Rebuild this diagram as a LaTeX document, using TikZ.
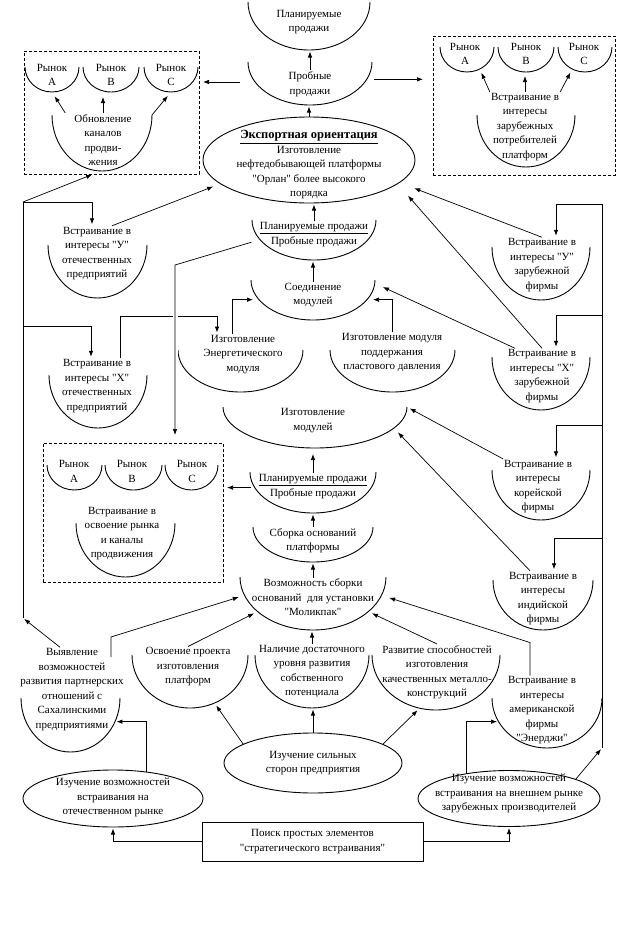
\documentclass[tikz,border=0pt]{standalone}
\usepackage{fontspec}
\setmainfont{Liberation Serif}[Ligatures=TeXOff]
\usetikzlibrary{shapes.geometric,arrows.meta,calc}

\tikzset{
  txt/.style={align=center, inner sep=1pt},
  bowlline/.style={line width=0.9pt},
  oval/.style={ellipse, draw, line width=0.9pt, inner sep=0pt, outer sep=0pt},
  dashbox/.style={draw, dash pattern=on 3pt off 2pt, line width=0.7pt, inner sep=0pt, outer sep=0pt},
  arr/.style={-{Latex[length=6pt,width=4.5pt]}, line width=0.7pt, shorten >=1.5pt},
}
% bowl: name, centre of the arc top, x radius, y radius
\newcommand{\bowl}[4]{%
  \node[ellipse, inner sep=0pt, outer sep=0pt, minimum width=2*#3, minimum height=2*#4] (#1) at #2 {};
  \draw[bowlline] (#1.west) arc (180:0:#3 and #4);}

\begin{document}
\begin{tikzpicture}[x=1pt, y=-1pt, font=\fontsize{11}{14.5}\selectfont]
  \useasboundingbox (0,0) rectangle (623,926);

  % centre column, top
  \bowl{plan1}{(309,2)}{61}{48}
  \node[txt] (plan1t) at (309,22) {Планируемые\\продажи};
  \bowl{prob1}{(310,62)}{62}{43}
  \node[txt] (prob1t) at (310,84) {Пробные\\продажи};
  \node[oval, minimum width=212, minimum height=86] (eo) at (309,160) {};
  \node[txt] (eot) at (309,165) {{\fontsize{12.5}{14.5}\selectfont\bfseries\underline{Экспортная ориентация}}\\Изготовление\\нефтедобывающей платформы\\"Орлан" более высокого\\порядка};
  \draw[arr] (prob1t.north) -- (prob1t.north |- plan1.south);
  \draw[arr] (eo.north) -- (eo.north |- prob1.south);

  % left box
  \node[dashbox, minimum width=175, minimum height=123] (L1) at (111.5,112.5) {};
  \bowl{rA1}{(52,67)}{27}{25}
  \bowl{rB1}{(111,67)}{28}{25}
  \bowl{rC1}{(171,67)}{27}{25}
  \node[txt] (rA1t) at (52,75) {Рынок\\А};
  \node[txt] (rB1t) at (111,75) {Рынок\\В};
  \node[txt] (rC1t) at (171,75) {Рынок\\С};
  \bowl{obn}{(102,115)}{50}{56}
  \node[txt] (obnt) at (103,140) {Обновление\\каналов\\продви-\\жения};
  \draw[arr, shorten >=5pt] ([xshift=-8pt]obnt.north west) -- (rA1.south);
  \draw[arr, shorten >=5pt] (obnt.north) -- (obnt.north |- rB1.south);
  \draw[arr, shorten >=5pt] (obn.east) -- (rC1.south);

  % right box
  \node[dashbox, minimum width=182, minimum height=139] (R1) at (524,105.5) {};
  \bowl{rA2}{(467,47)}{27}{25}
  \bowl{rB2}{(526,47)}{28}{25}
  \bowl{rC2}{(585,47)}{27}{25}
  \node[txt] (rA2t) at (465,54) {Рынок\\А};
  \node[txt] (rB2t) at (526,54) {Рынок\\В};
  \node[txt] (rC2t) at (584,54) {Рынок\\С};
  \bowl{vstr}{(526,115)}{49}{52}
  \node[txt] (vstrt) at (525,127) {Встраивание в\\интересы\\зарубежных\\потребителей\\платформ};
  \draw[arr, shorten >=4pt] (vstrt.north west) -- (rA2.-60);
  \draw[arr, shorten >=4pt] (vstrt.north) -- (vstrt.north |- rB2.south);
  \draw[arr, shorten >=4pt] (vstrt.north east) -- (rC2.-120);

  \draw[arr, shorten <=15pt, shorten >=4pt] (prob1.200) -- (prob1.200 -| L1.east);
  \draw[arr, shorten <=7pt, shorten >=10pt] (prob1.-17) -- (prob1.-17 -| R1.west);

  % centre column, modules
  \bowl{mp}{(314,220)}{62}{40}
  \node[txt] (mpt) at (314,234.5) {\underline{Планируемые продажи}\\Пробные продажи};
  \draw[arr] (mpt.north) -- (mpt.north |- eo.south);
  \bowl{soed}{(313,280)}{62}{40}
  \node[txt] (soedt) at (313,295) {Соединение\\модулей};
  \draw[arr] (soedt.north) -- (soedt.north |- mp.south);
  \bowl{energ}{(240.5,350)}{62.5}{42}
  \node[txt] (energt) at (243,354.5) {Изготовление\\Энергетического\\модуля};
  \draw[arr, shorten >=6pt] ([xshift=-11pt]energt.north) |- (soed.200);
  \bowl{plast}{(392.5,350)}{62.5}{42}
  \node[txt] (plastt) at (392,352.5) {Изготовление модуля\\поддержания\\пластового давления};
  \draw[arr, shorten >=6pt] (plastt.north) |- (soed.-20);
  \bowl{izmod}{(315,407)}{92}{41}
  \node[txt] (izmodt) at (313,420.5) {Изготовление\\модулей};
  \bowl{lp}{(313,472)}{63}{41}
  \node[txt] (lpt) at (313,486.5) {\underline{Планируемые продажи}\\Пробные продажи};
  \draw[arr, shorten >=6pt] (lpt.north) -- (lpt.north |- izmod.south);
  \bowl{sb}{(313,527)}{60}{35}
  \node[txt] (sbt) at (313,540.5) {Сборка оснований\\платформы};
  \draw[arr] (sbt.north) -- (sbt.north |- lp.south);
  \bowl{voz}{(313,577)}{73}{53}
  \node[txt] (vozt) at (313,597.5) {Возможность сборки\\оснований\ \ для установки\\"Моликпак"};
  \draw[arr] (vozt.north) -- (vozt.north |- sb.south);

  % middle box
  \node[dashbox, minimum width=180, minimum height=139] (M) at (133,512.5) {};
  \bowl{rA3}{(74.5,465)}{27.5}{25}
  \bowl{rB3}{(133.5,465)}{28.5}{25}
  \bowl{rC3}{(191.5,465)}{26.5}{25}
  \node[txt] (rA3t) at (74,471.5) {Рынок\\А};
  \node[txt] (rB3t) at (132,471.5) {Рынок\\В};
  \node[txt] (rC3t) at (192,471.5) {Рынок\\С};
  \bowl{vm}{(125.5,523)}{49.5}{54}
  \node[txt] (vmt) at (122,533.75) {Встраивание в\\освоение рынка\\и каналы\\продвижения};
  \draw[arr, shorten <=4pt, shorten >=4pt] (lp.195) -- (lp.195 -| M.east);

  % left column
  \bowl{uo}{(97.5,245)}{49.5}{53}
  \node[txt] (uot) at (97,253.5) {Встраивание в\\интересы "У"\\отечественных\\предприятий};
  \bowl{xo}{(98,375)}{49}{53}
  \node[txt] (xot) at (97,386) {Встраивание в\\интересы "Х"\\отечественных\\предприятий};
  \draw[arr, shorten >=8pt] ([xshift=15pt]uot.north) -- (eo.195);
  \draw[arr] ([xshift=23pt]xot.north) -- ++(0,-42) -| ([xshift=-26pt]energt.north);
  \coordinate (mk) at (175,265);
  \draw[white, line width=5pt] (mk) -- (mk |- M.north);
  \draw[arr, shorten <=9pt, shorten >=8pt] (mp.200) -- (mk) -- (mk |- M.north);

  % right column
  \bowl{uz}{(541,247)}{49}{53}
  \node[txt] (uzt) at (542,265) {Встраивание в\\интересы "У"\\зарубежной\\фирмы};
  \bowl{xz}{(541,357)}{49}{53}
  \node[txt] (xzt) at (542,376) {Встраивание в\\интересы "Х"\\зарубежной\\фирмы};
  \bowl{kor}{(541,470)}{49}{50}
  \node[txt] (kort) at (538,486.5) {Встраивание в\\интересы\\корейской\\фирмы};
  \bowl{ind}{(543,580)}{50}{50}
  \node[txt] (indt) at (543,598.5) {Встраивание в\\интересы\\индийской\\фирмы};
  \draw[arr, shorten >=16pt] (uzt.north) -- (eo.-14);
  \draw[arr, shorten >=16pt] (xzt.north) -- (eo.-15);
  \draw[arr, shorten >=9pt] ([xshift=-27pt]xzt.north) -- (soed.-3);
  \draw[arr, shorten >=3pt] (kort.north west) -- (izmod.east);
  \draw[arr, shorten >=6pt] ([xshift=-13pt]indt.north) -- (izmod.-15);

  % bottom row
  \bowl{osv}{(190,655)}{58}{53}
  \node[txt] (osvt) at (188,667) {Освоение проекта\\изготовления\\платформ};
  \bowl{nal}{(312,655)}{57}{53}
  \node[txt] (nalt) at (312,671.5) {Наличие достаточного\\уровня развития\\собственного\\потенциала};
  \bowl{raz}{(436,655)}{64}{55}
  \node[txt] (razt) at (437,672) {Развитие способностей\\изготовления\\качественных металло-\\конструкций};
  \draw[arr, shorten >=4pt] (osvt.north) -- (voz.212);
  \draw[arr] (nalt.north) -- (nalt.north |- voz.south);
  \draw[arr, shorten >=4pt] (razt.north) -- (voz.-32);

  \bowl{vy}{(70.5,698)}{49.5}{54}
  \node[txt] (vyt) at (72,689.5) {Выявление\\возможностей\\развития партнерских\\отношений с\\Сахалинскими\\предприятиями};
  \coordinate (vyk) at (111,637);
  \draw[arr, shorten >=6pt] (vyk) ++(0,20) -- (vyk) -- (voz.195);

  \bowl{am}{(547,698)}{55}{50}
  \node[txt] (amt) at (542,710.5) {Встраивание в\\интересы\\американской\\фирмы\\"Энерджи"};
  \draw[arr, shorten >=8pt] ([xshift=-12pt]amt.north) -- ++(0,-33) -- (voz.-15);

  \node[oval, minimum width=178, minimum height=60] (izs) at (313,763) {};
  \node[txt] (izst) at (313,763) {Изучение сильных\\сторон предприятия};
  \draw[arr, shorten >=3pt] (izs.165) -- (osv.-63);
  \draw[arr] (izs.north) -- (izs.north |- nal.south);
  \draw[arr, shorten >=3pt] (izs.15) -- (raz.-107);

  \node[oval, minimum width=180, minimum height=57] (izo) at (113,798.5) {};
  \node[txt] (izot) at (113,797.5) {Изучение возможностей\\встраивания на\\отечественном рынке};
  \draw[arr] (izo.38) |- (vy.-28);

  \node[oval, minimum width=182, minimum height=56] (izv) at (509,798.5) {};
  \node[txt] (izvt) at (509,793.5) {Изучение возможностей\\встраивания на внешнем рынке\\зарубежных производителей};
  \draw[arr] (izv.150) |- (am.206);

  \node[draw, line width=0.9pt, minimum width=221, minimum height=39, align=center, inner sep=0pt] (poisk) at (312.5,841.5) {Поиск простых элементов\\"стратегического встраивания"};
  \draw[arr] (poisk.west) -| (izo.south);
  \draw[arr] (poisk.east) -| (izv.south);

  % long side lines
  \coordinate (lc1) at (23,202);
  \coordinate (lc3) at (23,326);
  \coordinate (lc2) at (23,618);
  \draw[line width=0.7pt] (lc1) -- (lc2);
  \draw[arr] (lc1) -- ([xshift=-18pt]L1.south);
  \draw[arr] (lc1) -| ([xshift=-5pt]uot.north);
  \draw[arr] (lc3) -| ([xshift=-6pt]xot.north);
  \draw[arr] ([xshift=-12pt]vyt.north) -- (lc2);

  \coordinate (rc0) at (602,204);
  \coordinate (rc2) at (602,315);
  \coordinate (rc3) at (602,425);
  \coordinate (rc4) at (602,538);
  \coordinate (rc1) at (602,748);
  \draw[line width=0.7pt] (rc0) -- (rc1);
  \draw[arr] (rc0) -| ([xshift=14pt]uzt.north);
  \draw[arr] (rc2) -| ([xshift=14pt]xzt.north);
  \draw[arr] (rc3) -| ([xshift=18pt]kort.north);
  \draw[arr] (rc4) -| ([xshift=11pt]indt.north);
  \draw[arr] (izv.16) -- (rc1);
\end{tikzpicture}
\end{document}
